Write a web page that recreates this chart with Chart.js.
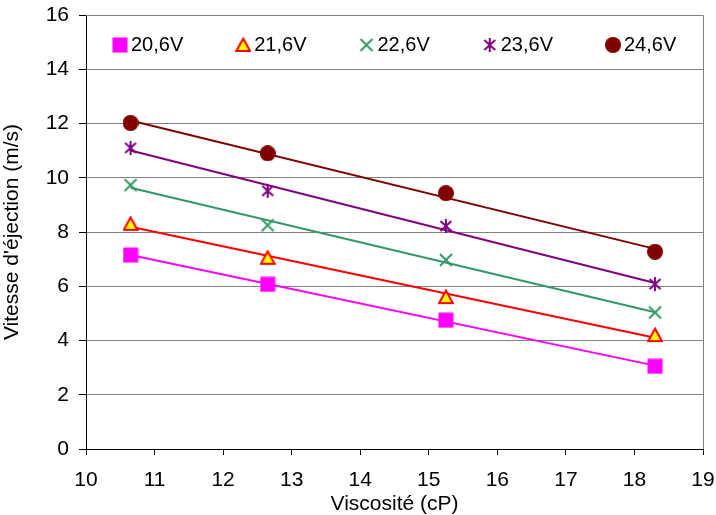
<!DOCTYPE html>
<html lang="fr">
<head>
  <meta charset="UTF-8">
  <title>Vitesse d'éjection en fonction de la viscosité</title>
  <script src="https://cdn.jsdelivr.net/npm/chart.js"></script>
  <style>
    body {
      background-color: white;
      margin: 0;
      padding: 0;
    }

    #cadre {
      position: relative;
      width: 716px;
      height: 515px;
    }
  </style>
</head>
<body>

  <div id="cadre">
    <canvas id="graphe"></canvas>
  </div>

  <script>
    // Données
    const viscosites = [10.65, 12.65, 15.25, 18.3];
    const v20_6 = [7.15, 6.07, 4.75, 3.05];
    const v21_6 = [8.3, 7.05, 5.6, 4.2];
    const v22_6 = [9.73, 8.25, 6.97, 5.03];
    const v23_6 = [11.1, 9.52, 8.22, 6.08];
    const v24_6 = [12.02, 10.9, 9.43, 7.27];

    const nomsSeries = ['20,6V', '21,6V', '22,6V', '23,6V', '24,6V'];
    const valeursSeries = [v20_6, v21_6, v22_6, v23_6, v24_6];
    const couleurs = ['#FF00FF', '#FF0000', '#339966', '#800080', '#800000'];
    const formes = ['carre', 'triangle', 'croix', 'etoile', 'rond'];

    const policeTexte = '"Liberation Sans", Arial, sans-serif';

    // Marqueurs style Excel dessinés sur un petit canvas
    function marqueur(forme, couleur) {
      const c = document.createElement('canvas');
      c.width = 16;
      c.height = 16;
      const g = c.getContext('2d');
      g.lineWidth = 2;
      g.strokeStyle = couleur;
      g.fillStyle = couleur;
      if (forme === 'carre') {
        g.fillRect(0.5, 0.5, 15, 15);
      } else if (forme === 'triangle') {
        g.beginPath();
        g.moveTo(8, 1.5);
        g.lineTo(14.8, 14);
        g.lineTo(1.2, 14);
        g.closePath();
        g.fillStyle = '#FFFF00';
        g.fill();
        g.stroke();
      } else if (forme === 'croix') {
        g.beginPath();
        g.moveTo(2, 2); g.lineTo(14, 14);
        g.moveTo(14, 2); g.lineTo(2, 14);
        g.stroke();
      } else if (forme === 'etoile') {
        g.beginPath();
        g.moveTo(8, 1); g.lineTo(8, 15);
        g.moveTo(2.5, 3); g.lineTo(13.5, 13);
        g.moveTo(13.5, 3); g.lineTo(2.5, 13);
        g.stroke();
      } else {
        g.beginPath();
        g.arc(8, 8, 8, 0, Math.PI * 2);
        g.fill();
      }
      return c;
    }

    const marqueurs = formes.map((f, i) => marqueur(f, couleurs[i]));

    // Courbe de tendance linéaire (moindres carrés)
    function tendance(ys) {
      const n = viscosites.length;
      const mx = viscosites.reduce((a, b) => a + b, 0) / n;
      const my = ys.reduce((a, b) => a + b, 0) / n;
      let num = 0, den = 0;
      viscosites.forEach((x, i) => {
        num += (x - mx) * (ys[i] - my);
        den += (x - mx) * (x - mx);
      });
      const pente = num / den;
      const x0 = viscosites[0], x1 = viscosites[n - 1];
      return [
        { x: x0, y: my + pente * (x0 - mx) },
        { x: x1, y: my + pente * (x1 - mx) }
      ];
    }

    const datasets = [];
    valeursSeries.forEach((ys, i) => {
      datasets.push({
        label: nomsSeries[i],
        data: viscosites.map((x, k) => ({ x: x, y: ys[k] })),
        showLine: false,
        pointStyle: marqueurs[i],
        order: 0
      });
      datasets.push({
        label: 'tendance ' + nomsSeries[i],
        data: tendance(ys),
        showLine: true,
        borderColor: couleurs[i],
        borderWidth: 2,
        pointRadius: 0,
        order: 1
      });
    });

    // Légende à l'intérieur de la zone de tracé
    const legendeInterne = {
      id: 'legendeInterne',
      afterDatasetsDraw(chart) {
        const { ctx, chartArea } = chart;
        ctx.save();
        ctx.font = '20px ' + policeTexte;
        ctx.textBaseline = 'middle';
        ctx.textAlign = 'left';
        ctx.fillStyle = '#000';
        const y = chartArea.top + 30;
        nomsSeries.forEach((nom, i) => {
          const x = chartArea.left + 34 + i * 123.25;
          const m = marqueurs[i];
          ctx.drawImage(m, x - m.width / 2, y - m.height / 2);
          ctx.fillText(nom, x + 11, y);
        });
        ctx.restore();
      }
    };

    // Bordure droite / haute de la zone de tracé
    const bordure = {
      id: 'bordure',
      beforeDatasetsDraw(chart) {
        const { ctx, chartArea } = chart;
        ctx.save();
        ctx.strokeStyle = '#808080';
        ctx.lineWidth = 1;
        ctx.beginPath();
        ctx.moveTo(chartArea.left, chartArea.top + 0.5);
        ctx.lineTo(chartArea.right + 0.5, chartArea.top + 0.5);
        ctx.lineTo(chartArea.right + 0.5, chartArea.bottom);
        ctx.stroke();
        ctx.restore();
      }
    };

    Chart.defaults.font.family = policeTexte;
    Chart.defaults.color = '#000';

    new Chart(document.getElementById('graphe'), {
      type: 'scatter',
      data: { datasets: datasets },
      options: {
        responsive: true,
        maintainAspectRatio: false,
        animation: false,
        layout: {
          padding: 0
        },
        plugins: {
          legend: { display: false },
          tooltip: { enabled: false }
        },
        scales: {
          x: {
            type: 'linear',
            min: 10,
            max: 19,
            ticks: { stepSize: 1, font: { size: 21 }, padding: 13, color: '#000' },
            grid: { drawOnChartArea: false, drawTicks: true, tickLength: 6, tickColor: '#000' },
            border: { color: '#000', width: 1 },
            title: {
              display: true,
              text: 'Viscosité (cP)',
              font: { size: 21, lineHeight: 1 },
              color: '#000',
              padding: { top: 0, bottom: 0 }
            },
            afterFit(scale) {
              scale.height = 66;
              scale.paddingLeft = 0;
              scale.paddingRight = 13;
            }
          },
          y: {
            min: 0,
            max: 16,
            ticks: { stepSize: 2, font: { size: 21 }, padding: 10, color: '#000' },
            grid: { color: '#808080', tickLength: 7, tickColor: '#000' },
            border: { color: '#000', width: 1 },
            title: {
              display: true,
              text: "Vitesse d'éjection (m/s)",
              font: { size: 21 },
              color: '#000',
              padding: { top: 0, bottom: 10 }
            },
            afterFit(scale) {
              scale.width = 86;
              scale.paddingTop = 15;
            }
          }
        }
      },
      plugins: [bordure, legendeInterne]
    });
  </script>

</body>
</html>
